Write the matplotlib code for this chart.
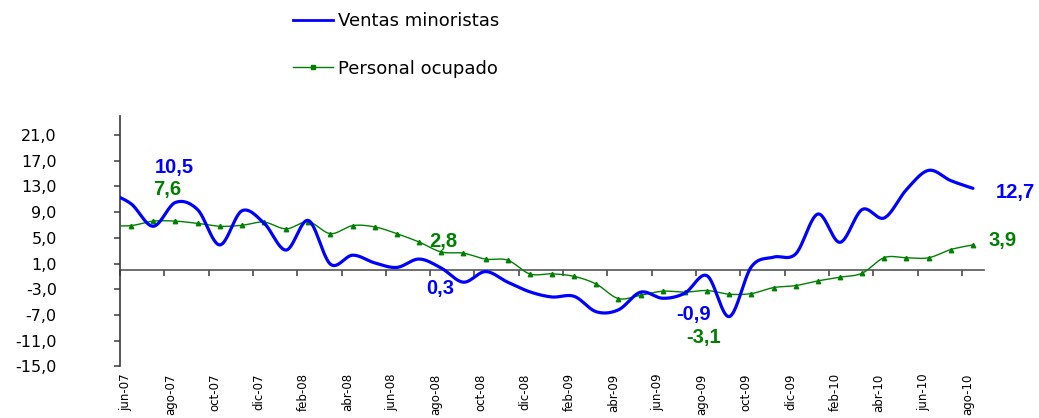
import numpy as np
import matplotlib
matplotlib.use("Agg")
import matplotlib.pyplot as plt
from matplotlib.lines import Line2D
from matplotlib.transforms import ScaledTranslation

# ---------------- data ----------------
months = ["may-07", "jun-07", "jul-07", "ago-07", "sep-07", "oct-07", "nov-07", "dic-07",
          "ene-08", "feb-08", "mar-08", "abr-08", "may-08", "jun-08", "jul-08", "ago-08",
          "sep-08", "oct-08", "nov-08", "dic-08",
          "ene-09", "feb-09", "mar-09", "abr-09", "may-09", "jun-09", "jul-09", "ago-09",
          "sep-09", "oct-09", "nov-09", "dic-09",
          "ene-10", "feb-10", "mar-10", "abr-10", "may-10", "jun-10", "jul-10", "ago-10"]

ventas = [12.0, 10.3, 6.8, 10.5, 9.4, 3.9, 9.2, 7.3, 3.1, 7.7,
          0.9, 2.3, 1.1, 0.4, 1.7, 0.3, -1.9, -0.25, -1.9, -3.4,
          -4.2, -4.1, -6.5, -6.2, -3.45, -4.4, -3.6, -0.9, -7.25, 0.5,
          2.0, 2.5, 8.7, 4.3, 9.4, 8.1, 12.5, 15.5, 13.9, 12.7]

personal = [6.9, 6.9, 7.6, 7.6, 7.25, 6.8, 6.95, 7.45, 6.4, 7.5,
            5.65, 6.9, 6.7, 5.65, 4.35, 2.8, 2.62, 1.69, 1.53, -0.62,
            -0.6, -1.0, -2.2, -4.45, -3.92, -3.3, -3.45, -3.2, -3.77, -3.67,
            -2.74, -2.43, -1.7, -1.12, -0.5, 1.93, 1.9, 1.9, 3.18, 3.9]

series_names = ["Ventas minoristas", "Personal ocupado"]
yticks = [-15, -11, -7, -3, 1, 5, 9, 13, 17, 21]
tick_labels = months[1::2]

blue_labels = ["10,5", "0,3", "-0,9", "12,7"]
green_labels = ["7,6", "2,8", "-3,1", "3,9"]

BLUE = "#0000FF"
GREEN = "#008000"


def smooth(x, y, n=24):
    """Excel-like smoothed line (Bezier / Catmull-Rom through the points)."""
    x = np.asarray(x, float)
    y = np.asarray(y, float)
    px = np.concatenate([[x[0]], x, [x[-1]]])
    py = np.concatenate([[y[0]], y, [y[-1]]])
    t = np.linspace(0, 1, n)
    xs, ys = [], []
    for i in range(len(x) - 1):
        x0, x1, x2, x3 = px[i:i + 4]
        y0, y1, y2, y3 = py[i:i + 4]
        bx1, by1 = x1 + (x2 - x0) / 6, y1 + (y2 - y0) / 6
        bx2, by2 = x2 - (x3 - x1) / 6, y2 - (y3 - y1) / 6
        a = (1 - t) ** 3
        b = 3 * (1 - t) ** 2 * t
        c = 3 * (1 - t) * t ** 2
        d = t ** 3
        xs.append(a * x1 + b * bx1 + c * bx2 + d * x2)
        ys.append(a * y1 + b * by1 + c * by2 + d * y2)
    return np.concatenate(xs), np.concatenate(ys)


# ---------------- figure ----------------
fig = plt.figure(figsize=(10.39, 4.18), dpi=100)
ax = fig.add_axes([120 / 1039, 51.6 / 418, 864 / 1039, 250.7 / 418])

xpos = np.arange(len(months)) - 0.5
ymin, ymax = -15, 24
ax.set_xlim(0, 39)
ax.set_ylim(ymin, ymax)

sx, sy = smooth(xpos, personal)
ax.plot(sx, sy, color=GREEN, lw=1.0, zorder=3)
ax.plot(xpos[1:], personal[1:], ls="none", marker="^", ms=3.2, color=GREEN, zorder=4)

bx, by = smooth(xpos, ventas)
ax.plot(bx, by, color=BLUE, lw=2.3, zorder=5, solid_capstyle="round")

# axes styling
for s in ["top", "right", "bottom"]:
    ax.spines[s].set_visible(False)
ax.spines["left"].set_color("#3a3a3a")
ax.spines["left"].set_linewidth(1.2)

ax.set_yticks(yticks)
ax.set_yticklabels([f"{v:.1f}".replace(".", ",") for v in yticks])
ax.tick_params(axis="y", direction="out", length=4.5, width=1.1, color="#3a3a3a",
               pad=41, labelsize=11.5, labelcolor="black")

ax.set_xticks(np.arange(0, 39, 2))
ax.set_xticklabels(tick_labels, rotation=90, fontsize=8.5, va="top", ha="center")
ax.tick_params(axis="x", length=0, pad=5)
offset = ScaledTranslation(6 / 100, 0, fig.dpi_scale_trans)
for lbl in ax.get_xticklabels():
    lbl.set_transform(lbl.get_transform() + offset)

# zero line with tick marks
zero_frac = (0 - ymin) / (ymax - ymin)
sec = ax.secondary_xaxis(zero_frac)
sec.set_xticks(np.arange(0, 40, 2))
sec.set_xticklabels([])
sec.spines["bottom"].set_color("#555555")
sec.spines["bottom"].set_linewidth(1.2)
sec.tick_params(axis="x", direction="out", length=4, width=1.1, color="#3a3a3a")

# value annotations
lab_font = dict(family="Liberation Sans", fontweight="bold", fontsize=14.5)
blue_pos = [(1.58, 15.08), (13.81, -3.72), (25.13, -7.77), (39.55, 11.19)]
green_pos = [(1.5, 11.7), (13.96, 3.65), (25.58, -11.4), (39.2, 3.76)]
for txt, (xx, yy) in zip(blue_labels, blue_pos):
    ax.text(xx, yy, txt, color=BLUE, ha="left", va="baseline", clip_on=False, **lab_font)
for txt, (xx, yy) in zip(green_labels, green_pos):
    ax.text(xx, yy, txt, color=GREEN, ha="left", va="baseline", clip_on=False, **lab_font)

# legend
handles = [Line2D([], [], color=BLUE, lw=2.0),
           Line2D([], [], color=GREEN, lw=1.0, marker="s", ms=2.5, markevery=[1])]
leg = fig.legend(handles, series_names, loc="upper left",
                 bbox_to_anchor=(293 / 1039, 1 - 12 / 418), frameon=False,
                 fontsize=13, handlelength=2.2, handletextpad=0.3,
                 labelspacing=1.65, borderpad=0, borderaxespad=0)

fig.savefig("out.png", dpi=100)
